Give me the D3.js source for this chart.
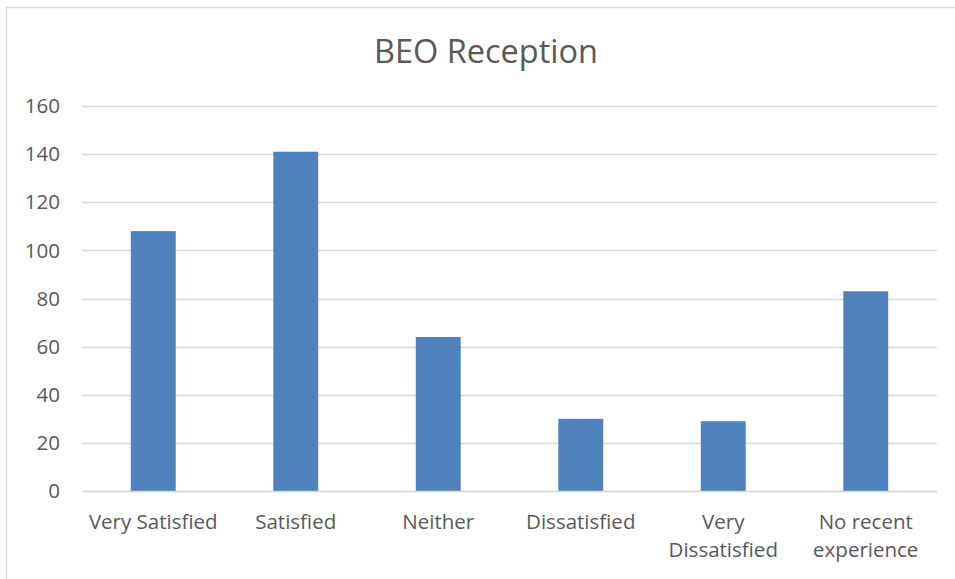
<!DOCTYPE html>
<html>
<head>
<meta charset="utf-8">
<script src="https://cdn.jsdelivr.net/npm/d3@7"></script>
<style>
  body { margin: 0; background: #fff; }
  svg { display: block; font-family: "Open Sans", sans-serif; }
</style>
</head>
<body>
<svg id="chart" width="955" height="579"></svg>
<script>
const chartTitle = "BEO Reception";
const categories = ["Very Satisfied", "Satisfied", "Neither", "Dissatisfied", "Very Dissatisfied", "No recent experience"];
// label lines as shown under each bar
const categoryLines = [["Very Satisfied"], ["Satisfied"], ["Neither"], ["Dissatisfied"], ["Very", "Dissatisfied"], ["No recent", "experience"]];
const values = [108, 141, 64, 30, 29, 83];
const yTicks = [0, 20, 40, 60, 80, 100, 120, 140, 160];

const svg = d3.select("#chart");
const margin = { top: 106, right: 18, bottom: 88, left: 82 };
const width = 955, height = 579;

// outer chart border (right/bottom fall off the picture)
svg.append("rect")
  .attr("x", 6.5).attr("y", 7.5)
  .attr("width", 960).attr("height", 600)
  .attr("fill", "none")
  .attr("stroke", "#d9d9d9")
  .attr("stroke-width", 1.5);

const x = d3.scaleBand()
  .domain(categories)
  .range([margin.left, width - margin.right])
  .paddingInner(0.685)
  .paddingOuter(0.3425);

const y = d3.scaleLinear()
  .domain([0, 160])
  .range([height - margin.bottom, margin.top]);

svg.append("text")
  .attr("x", 486).attr("y", 63)
  .attr("text-anchor", "middle")
  .attr("font-size", 32.5)
  .attr("fill", "#595959")
  .text(chartTitle);

const grid = svg.append("g");
grid.selectAll("line")
  .data(yTicks)
  .join("line")
  .attr("x1", margin.left).attr("x2", width - margin.right)
  .attr("y1", d => Math.round(y(d)) + 0.5).attr("y2", d => Math.round(y(d)) + 0.5)
  .attr("stroke", "#d9d9d9")
  .attr("stroke-width", 1.5);

svg.append("g").selectAll("text")
  .data(yTicks)
  .join("text")
  .attr("x", 60).attr("y", d => y(d))
  .attr("dy", "0.35em")
  .attr("text-anchor", "end")
  .attr("font-size", 20.5)
  .attr("fill", "#595959")
  .text(d => d);

svg.append("g").selectAll("rect")
  .data(values)
  .join("rect")
  .attr("x", (d, i) => x(categories[i]))
  .attr("width", x.bandwidth())
  .attr("y", d => y(d))
  .attr("height", d => y(0) - y(d))
  .attr("fill", "#4f81bd");

// redraw baseline over bars
svg.append("line")
  .attr("x1", margin.left).attr("x2", width - margin.right)
  .attr("y1", Math.round(y(0)) + 0.5).attr("y2", Math.round(y(0)) + 0.5)
  .attr("stroke", "#d9d9d9")
  .attr("stroke-width", 1.5);

const labels = svg.append("g").selectAll("text")
  .data(categories)
  .join("text")
  .attr("x", d => x(d) + x.bandwidth() / 2)
  .attr("text-anchor", "middle")
  .attr("font-size", 20.5)
  .attr("fill", "#595959");

labels.selectAll("tspan")
  .data((d, i) => categoryLines[i])
  .join("tspan")
  .attr("x", function() { return this.parentNode.getAttribute("x"); })
  .attr("y", (d, i) => 529 + i * 28)
  .text(d => d);
</script>
</body>
</html>
